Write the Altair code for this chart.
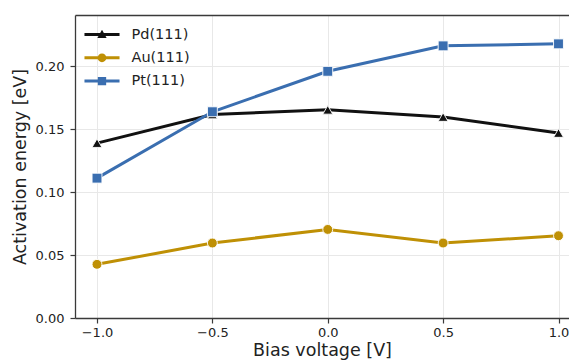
import altair as alt
import pandas as pd

bias = [-1.0, -0.5, 0.0, 0.5, 1.0]
pd_vals = [0.1388, 0.1615, 0.1652, 0.1595, 0.1468]
au_vals = [0.0426, 0.0595, 0.0703, 0.0595, 0.0653]
pt_vals = [0.1110, 0.1637, 0.1958, 0.2160, 0.2176]
series = ["Pd(111)", "Au(111)", "Pt(111)"]
colors = ["#111111", "#BF9005", "#3A6EB0"]
shapes = ["triangle-up", "circle", "square"]
x_ticks = [-1.0, -0.5, 0.0, 0.5, 1.0]
y_ticks = [0.0, 0.05, 0.10, 0.15, 0.20]

rows = []
for name, vals in zip(series, [pd_vals, au_vals, pt_vals]):
    for b, v in zip(bias, vals):
        rows.append({"bias": b, "energy": v, "series": name})
df = pd.DataFrame(rows)

FONT = "DejaVu Sans"
W, H = 494, 303
PX_PER_UNIT = 230.75
x_left = -1.0 - 22.0 / PX_PER_UNIT
x_dom = [x_left, x_left + W / PX_PER_UNIT]
y_dom = [0.0, 0.2405]

# legend symbols: a thin bar (the line) plus the marker, as filled custom paths
bar_p = "M-2.19,-0.19H2.19V0.19H-2.19Z"
leg_paths = [
    bar_p + "M-0.58,0.45L0,-0.58L0.58,0.45Z",
    bar_p + "M-0.55,0A0.55,0.55 0 1,1 0.55,0A0.55,0.55 0 1,1 -0.55,0Z",
    bar_p + "M-0.52,-0.52H0.52V0.52H-0.52Z",
]

x_scale = alt.Scale(domain=x_dom, nice=False, zero=False)
y_scale = alt.Scale(domain=y_dom, nice=False, zero=False)

x_axis = alt.Axis(
    values=x_ticks, format=".1f", title="Bias voltage [V]", orient="bottom",
    labelPadding=3, titlePadding=2, grid=True,
)
y_axis = alt.Axis(
    values=y_ticks, format=".2f", title="Activation energy [eV]",
    labelPadding=6, titlePadding=6, grid=True,
)

lines = alt.Chart(df).mark_line(strokeWidth=3, clip=True).encode(
    x=alt.X("bias:Q", scale=x_scale, axis=x_axis),
    y=alt.Y("energy:Q", scale=y_scale, axis=y_axis),
    color=alt.Color("series:N", scale=alt.Scale(domain=series, range=colors), legend=None),
    detail="series:N",
)

points = alt.Chart(df).mark_point(
    filled=True, size=98, opacity=1, stroke="white", strokeWidth=0.9, clip=True
).encode(
    x=alt.X("bias:Q", scale=x_scale,
            axis=alt.Axis(orient="top", labels=False, ticks=False, grid=False,
                          title=None, values=x_ticks)),
    y=alt.Y("energy:Q", scale=y_scale),
    color=alt.Color("series:N", scale=alt.Scale(domain=series, range=colors), legend=None),
    shape=alt.Shape("series:N", scale=alt.Scale(domain=series, range=shapes), legend=None),
)

leg_kw = dict(
    title=None, orient="none", legendX=19, legendY=11.5,
    symbolSize=256, symbolStrokeWidth=0, symbolOpacity=1, labelOffset=21.5,
    rowPadding=8.3, padding=0, labelFontSize=14.5, labelFont=FONT,
    labelColor="#222222",
)
legend_layer = alt.Chart(df).transform_filter("false").mark_point(
    filled=True, size=256, opacity=1
).encode(
    x=alt.X("bias:Q", scale=x_scale, axis=None),
    y=alt.Y("energy:Q", scale=y_scale),
    color=alt.Color("series:N", scale=alt.Scale(domain=series, range=colors),
                    legend=alt.Legend(**leg_kw)),
    shape=alt.Shape("series:N", scale=alt.Scale(domain=series, range=leg_paths),
                    legend=alt.Legend(**leg_kw)),
)

chart = (
    alt.layer(lines, points, legend_layer)
    .resolve_axis(x="independent")
    .resolve_scale(shape="independent", color="independent")
    .properties(
        width=W, height=H,
        autosize=alt.AutoSizeParams(type="none"),
        padding={"left": 67, "top": 7, "right": 0, "bottom": 46},
        background="white",
    )
    .configure_view(stroke=None)
    .configure_axis(
        labelFont=FONT, titleFont=FONT, labelFontSize=13, titleFontSize=17.5,
        titleFontWeight="normal", labelColor="#222222", titleColor="#222222",
        domainColor="#3a3a3a", domainWidth=1.3, tickColor="#3a3a3a",
        tickWidth=1.2, tickSize=5, gridColor="#e8e8e8", gridWidth=1,
    )
)

chart.save("out.html", embed_options={"renderer": "svg", "actions": False})
